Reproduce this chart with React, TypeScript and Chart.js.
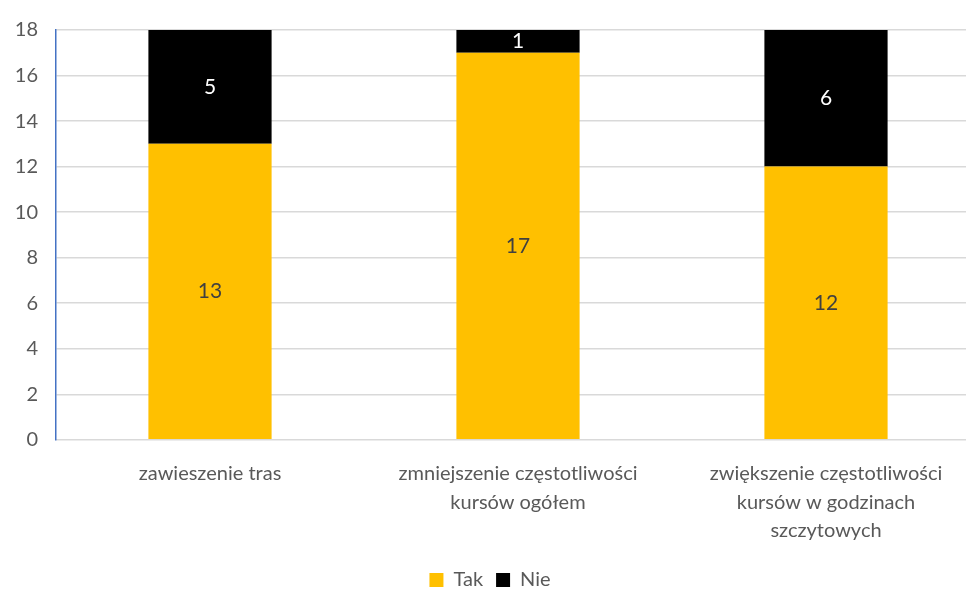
import React, { useEffect, useRef } from "react";
import { Chart, registerables } from "chart.js";

Chart.register(...registerables);

const categories: string[][] = [
  ["zawieszenie tras"],
  ["zmniejszenie częstotliwości", "kursów ogółem"],
  ["zwiększenie częstotliwości", "kursów w godzinach", "szczytowych"],
];
const takValues = [13, 17, 12];
const nieValues = [5, 1, 6];
const yTicks = [0, 2, 4, 6, 8, 10, 12, 14, 16, 18];

const FONT = "Lato, 'Open Sans', sans-serif";

const labelPlugin = {
  id: "barLabels",
  afterDatasetsDraw(chart: any) {
    const ctx = chart.ctx;
    chart.data.datasets.forEach((ds: any, di: number) => {
      const meta = chart.getDatasetMeta(di);
      meta.data.forEach((bar: any, i: number) => {
        const v = ds.data[i];
        const y = (bar.y + bar.base) / 2;
        ctx.save();
        ctx.font = `21px ${FONT}`;
        ctx.fillStyle = di === 0 ? "#404040" : "#ffffff";
        ctx.textAlign = "center";
        ctx.textBaseline = "middle";
        ctx.fillText(String(v), bar.x, y);
        ctx.restore();
      });
    });
  },
};

export default function App() {
  const ref = useRef<HTMLCanvasElement>(null);
  useEffect(() => {
    if (!ref.current) return;
    const chart = new Chart(ref.current, {
      type: "bar",
      data: {
        labels: categories,
        datasets: [
          { label: "Tak", data: takValues, backgroundColor: "#FFC000", categoryPercentage: 1, barPercentage: 0.4 },
          { label: "Nie", data: nieValues, backgroundColor: "#000000", categoryPercentage: 1, barPercentage: 0.4 },
        ],
      },
      options: {
        animation: false,
        responsive: false,
        layout: { padding: { top: 12, left: 0, right: 0, bottom: 0 } },
        plugins: {
          tooltip: { enabled: false },
          legend: {
            position: "bottom",
            labels: {
              boxWidth: 14,
              boxHeight: 14,
              padding: 13,
              color: "#595959",
              font: { family: FONT, size: 20 },
            },
          },
        },
        scales: {
          x: {
            stacked: true,
            grid: { display: false },
            border: { display: true, color: "#d9d9d9" },
            ticks: {
              color: "#595959",
              font: { family: FONT, size: 20, lineHeight: 1.42 },
              maxRotation: 0,
              padding: 12,
            },
          },
          y: {
            stacked: true,
            min: 0,
            max: 18,
            afterBuildTicks(scale: any) {
              scale.ticks = yTicks.map((v) => ({ value: v }));
            },
            afterFit(scale: any) {
              scale.width = 56;
            },
            grid: { color: "#d9d9d9", drawTicks: false, lineWidth: 1.5 },
            border: { display: true, color: "#4472C4", width: 1.5 },
            ticks: {
              color: "#595959",
              font: { family: FONT, size: 20 },
              padding: 18,
              align: "center",
            },
          },
        },
      },
      plugins: [labelPlugin],
    });
    return () => chart.destroy();
  }, []);
  return (
    <div style={{ position: "fixed", left: 0, top: 0, width: 966, height: 589, overflow: "hidden", background: "#fff" }}>
      <canvas ref={ref} width={980} height={600} style={{ width: 980, height: 600, display: "block" }} />
    </div>
  );
}
